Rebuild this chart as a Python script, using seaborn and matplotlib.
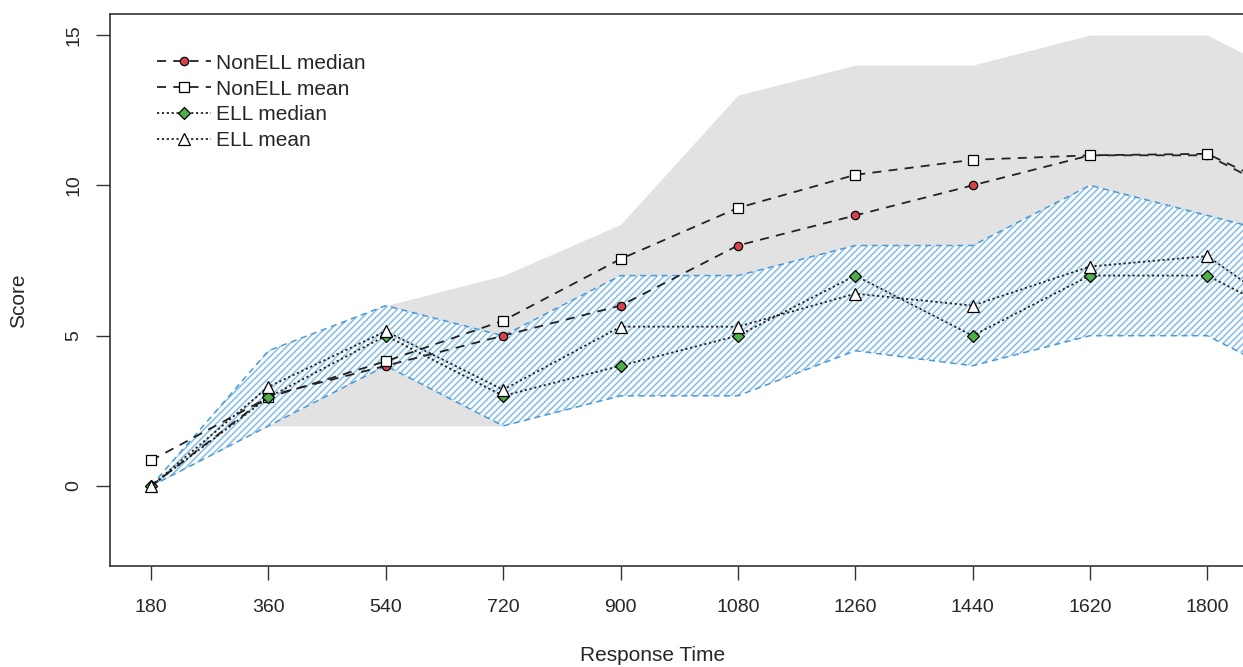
import numpy as np
import pandas as pd
import matplotlib
matplotlib.use("Agg")
import matplotlib.pyplot as plt
import seaborn as sns

# values (last point lies beyond the cropped right edge)
times = [180, 360, 540, 720, 900, 1080, 1260, 1440, 1620, 1800, 1980]
tick_times = [180, 360, 540, 720, 900, 1080, 1260, 1440, 1620, 1800]

nonell_median = [0, 3, 4, 5, 6, 8, 9, 10, 11, 11, 9]
nonell_mean = [0.85, 2.95, 4.15, 5.5, 7.55, 9.25, 10.35, 10.85, 11.0, 11.05, 9.2]
ell_median = [0, 2.95, 5.0, 3.0, 4.0, 5.0, 7.0, 5.0, 7.0, 7.0, 5.0]
ell_mean = [0, 3.3, 5.15, 3.2, 5.3, 5.3, 6.4, 6.0, 7.3, 7.65, 4.9]

nonell_low = [0, 2, 2, 2, 3, 4, 5, 5, 6, 6, 5]
nonell_high = [0, 4.5, 6, 7, 8.7, 13, 14, 14, 15, 15, 13]
ell_low = [0, 2, 4, 2, 3, 3, 4.5, 4, 5, 5, 3]
ell_high = [0, 4.5, 6, 5, 7, 7, 8, 8, 10, 9, 8]

sns.set_style("ticks")
plt.rcParams['font.family'] = ['Liberation Sans', 'DejaVu Sans']
plt.rcParams['hatch.linewidth'] = 1.2

fig = plt.figure(figsize=(12.43, 6.67), dpi=100)
ax = fig.add_axes([110 / 1243, 1 - 566 / 667, 1143 / 1243, 552 / 667])

# grey band (NonELL) and hatched blue band (ELL)
ax.fill_between(times, nonell_low, nonell_high, color="#e2e2e2", linewidth=0, zorder=1)
ax.fill_between(times, ell_low, ell_high, facecolor="white", edgecolor="#8cc0ea",
                hatch="/////", linewidth=0, zorder=2)
ax.plot(times, ell_low, color="#4a9ad8", ls=(0, (4, 3)), lw=1.1, zorder=3)
ax.plot(times, ell_high, color="#4a9ad8", ls=(0, (4, 3)), lw=1.1, zorder=3)

series = [
    ("NonELL median", nonell_median, (0, (5, 4)), "o", "#d8424e", 6),
    ("NonELL mean", nonell_mean, (0, (5, 4)), "s", "white", 6.5),
    ("ELL median", ell_median, (0, (1.2, 1.5)), "D", "#4fb04a", 6),
    ("ELL mean", ell_mean, (0, (1.2, 1.5)), "^", "white", 8),
]
for name, vals, ls, mk, fc, ms in series:
    df = pd.DataFrame({"time": times, "score": vals})
    sns.lineplot(data=df, x="time", y="score", ax=ax, color="#222222", lw=1.3,
                 linestyle=ls, marker=mk, markerfacecolor=fc, markeredgecolor="black",
                 markeredgewidth=0.9, markersize=ms, label=name, zorder=5)

ax.set_xlim(117, 1870)
ax.set_ylim(-2.66, 15.7)
ax.set_xticks(tick_times)
ax.set_xticklabels([str(t) for t in tick_times], fontsize=14)
ax.set_yticks([0, 5, 10, 15])
ax.set_yticklabels(["0", "5", "10", "15"], fontsize=14, rotation=90, va="center")
ax.tick_params(axis="x", direction="out", length=10, width=1.0, color="#333333", pad=14)
ax.tick_params(axis="y", direction="out", length=10, width=1.0, color="#333333", pad=10)
for s in ax.spines.values():
    s.set_color("#333333")
    s.set_linewidth(1.2)
ax.spines["right"].set_visible(False)

ax.set_xlabel("Response Time", fontsize=15)
ax.xaxis.set_label_coords((653 - 110) / 1143, -0.145)
ax.set_ylabel("Score", fontsize=15)
ax.yaxis.set_label_coords(-0.072, 0.48)

leg = ax.legend(loc="upper left", bbox_to_anchor=(0.025, 0.962), frameon=False,
                fontsize=15, handlelength=2.6, handletextpad=0.2, labelspacing=0.33)

fig.savefig("out.png", dpi=100)
